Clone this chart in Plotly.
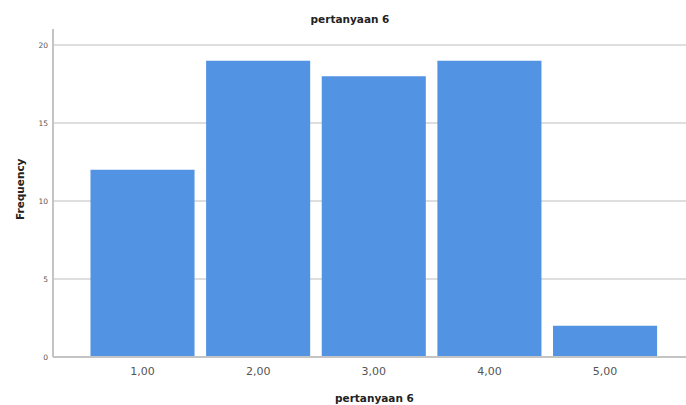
import plotly.graph_objects as go

categories = [1, 2, 3, 4, 5]
tick_labels = ["1,00", "2,00", "3,00", "4,00", "5,00"]
frequencies = [12, 19, 18, 19, 2]
y_ticks = [0, 5, 10, 15, 20]

fig = go.Figure()
fig.add_trace(go.Bar(
    x=categories, y=frequencies, width=0.9,
    marker=dict(color="#5393e3", line=dict(width=0)),
    hoverinfo="skip",
))

font = "DejaVu Sans, Verdana, sans-serif"
W, H = 686, 405
L, R, T, B = 53, 0, 29, 48
ph = H - T - B
pw = W - L - R

fig.update_layout(
    width=W, height=H,
    margin=dict(l=L, r=R, t=T, b=B, autoexpand=False),
    paper_bgcolor="white", plot_bgcolor="white",
    showlegend=False,
    font=dict(family=font, color="#444"),
    title=dict(text="<b>pertanyaan 6</b>", x=350 / W, xanchor="center", y=1 - 19 / H, yanchor="middle",
               font=dict(size=10.5, color="#222", family=font)),
    xaxis=dict(
        range=[0.226, 5.70], tickvals=categories, ticktext=tick_labels,
        showgrid=False, zeroline=False, showline=False, ticks="", automargin=False,
        tickfont=dict(size=11, color="#555"), ticklabelstandoff=6,
    ),
    yaxis=dict(
        range=[0, 21.03], tickvals=y_ticks, showgrid=True, gridcolor="#dedede", gridwidth=1.5,
        zeroline=False, showline=False, ticks="", automargin=False,
        tickfont=dict(size=7.5, color="#555"), ticklabelstandoff=4,
    ),
)
fig.add_annotation(text="<b>pertanyaan 6</b>", xref="paper", yref="paper",
                   x=(374 - L) / pw, y=-(398 - (H - B)) / ph, xanchor="center", yanchor="middle",
                   showarrow=False, font=dict(size=10.5, color="#222", family=font))
fig.add_annotation(text="<b>Frequency</b>", xref="paper", yref="paper",
                   x=(20 - L) / pw, y=(H - B - 189) / ph, xanchor="center", yanchor="middle", textangle=-90,
                   showarrow=False, font=dict(size=10.5, color="#222", family=font))
# axis lines
fig.add_shape(type="line", xref="paper", yref="paper", x0=0, x1=1, y0=0, y1=0,
              line=dict(color="#c4c4c4", width=2))
fig.add_shape(type="line", xref="paper", yref="paper", x0=0, x1=0, y0=0, y1=1,
              line=dict(color="#c4c4c4", width=2))

fig.write_html("out.html", config={"displayModeBar": False},
               post_script="document.body.style.margin='0';document.body.style.overflow='hidden';")
